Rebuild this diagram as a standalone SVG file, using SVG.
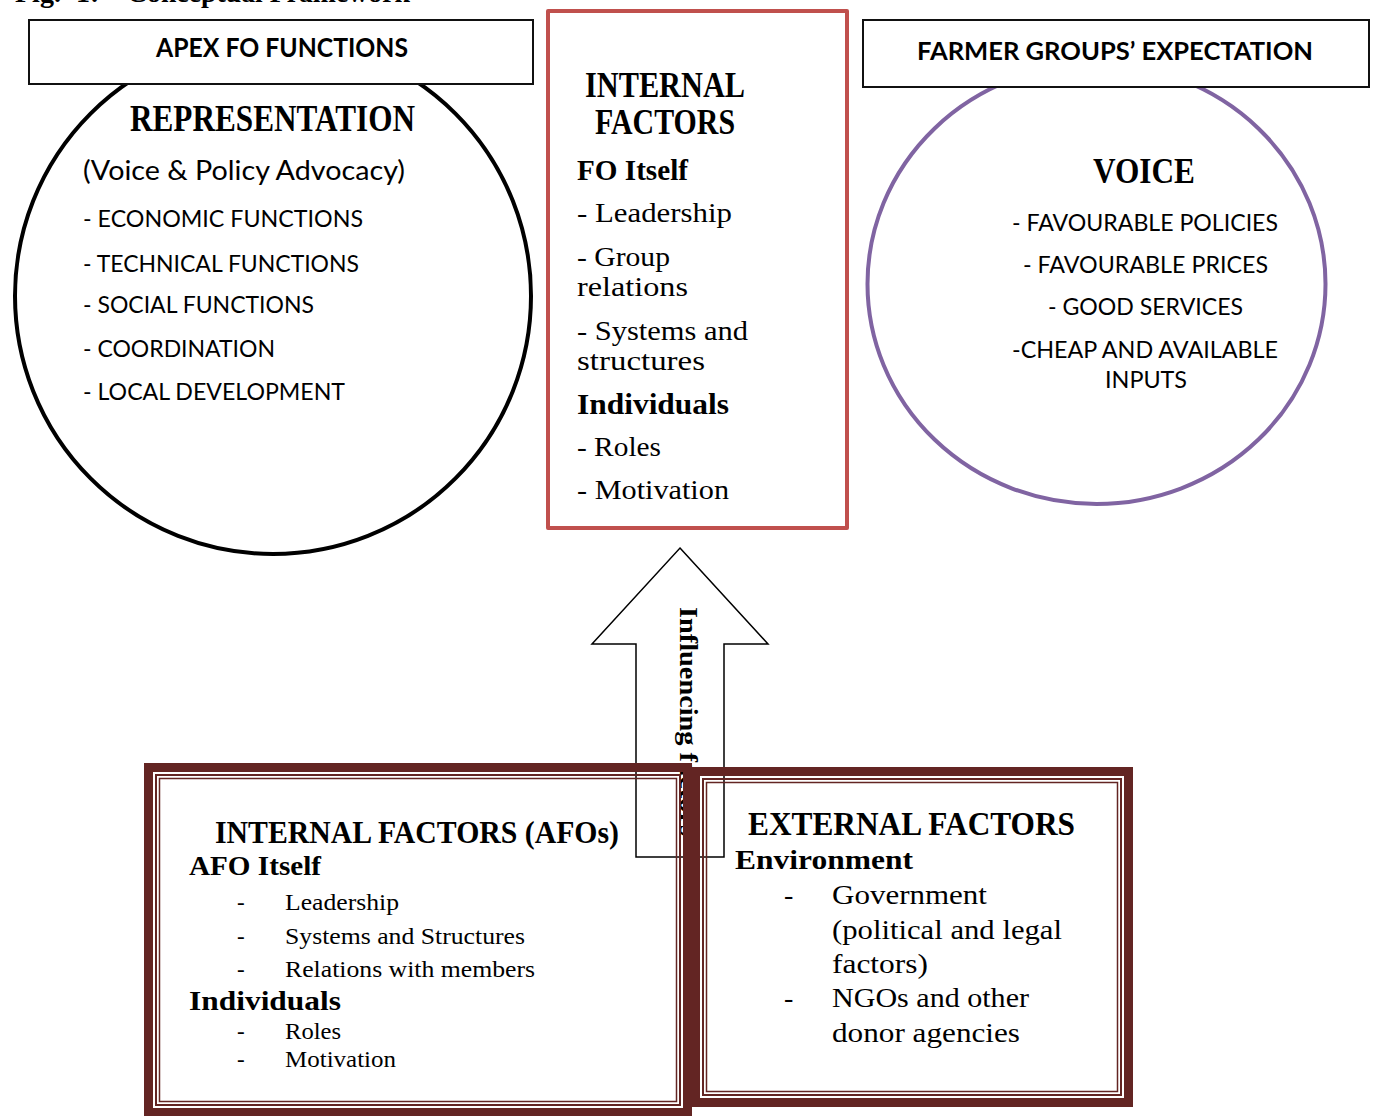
<svg xmlns="http://www.w3.org/2000/svg" width="1376" height="1116" viewBox="0 0 1376 1116">
<style>
.sans{font-family:Lato,"Liberation Sans",sans-serif;fill:#000}
.serif{font-family:"Liberation Serif",serif;fill:#000}
.b{font-weight:bold}
.hdr{fill:#fff;stroke:#111;stroke-width:2}
.thick{fill:none;stroke:#632523;stroke-width:9}
.thin1{fill:none;stroke:#632523;stroke-width:2}
.thin2{fill:none;stroke:#632523;stroke-width:1.5}
</style>
<rect width="1376" height="1116" fill="#fff"/>
<text class="serif b" font-size="28" y="2"><tspan x="15">Fig.</tspan><tspan x="76">1:</tspan><tspan x="127" textLength="283" lengthAdjust="spacingAndGlyphs">Conceptual Framework</tspan></text>

<g id="circle-representation">
<circle cx="273" cy="296" r="258" fill="#fff" stroke="#000" stroke-width="4"/>
<text class="serif b" font-size="37" x="130" y="131" textLength="285" lengthAdjust="spacingAndGlyphs">REPRESENTATION</text>
<text class="sans" font-size="27" x="83" y="180" textLength="322" lengthAdjust="spacingAndGlyphs">(Voice &amp; Policy Advocacy)</text>
<text class="sans" font-size="24" x="83" y="227" textLength="280" lengthAdjust="spacingAndGlyphs">- ECONOMIC FUNCTIONS</text>
<text class="sans" font-size="24" x="83" y="272" textLength="276" lengthAdjust="spacingAndGlyphs">- TECHNICAL FUNCTIONS</text>
<text class="sans" font-size="24" x="83" y="313" textLength="231" lengthAdjust="spacingAndGlyphs">- SOCIAL FUNCTIONS</text>
<text class="sans" font-size="24" x="83" y="357" textLength="192" lengthAdjust="spacingAndGlyphs">- COORDINATION</text>
<text class="sans" font-size="24" x="83" y="400" textLength="262" lengthAdjust="spacingAndGlyphs">- LOCAL DEVELOPMENT</text>
</g>
<g id="header-apex">
<rect class="hdr" x="29" y="20" width="504" height="64"/>
<text class="sans b" font-size="26" x="156" y="57" textLength="252" lengthAdjust="spacingAndGlyphs">APEX FO FUNCTIONS</text>
</g>

<g id="internal-factors">
<rect x="548" y="11" width="299" height="517" fill="#fff" stroke="#C0504D" stroke-width="4" stroke-linejoin="round"/>
<text class="serif b" font-size="35" x="585" y="97" textLength="160" lengthAdjust="spacingAndGlyphs">INTERNAL</text>
<text class="serif b" font-size="35" x="595" y="134" textLength="140" lengthAdjust="spacingAndGlyphs">FACTORS</text>
<text class="serif b" font-size="29" x="577" y="180" textLength="111" lengthAdjust="spacingAndGlyphs">FO Itself</text>
<text class="serif" font-size="28" x="577" y="222" textLength="155" lengthAdjust="spacingAndGlyphs">- Leadership</text>
<text class="serif" font-size="28" x="577" y="266" textLength="93" lengthAdjust="spacingAndGlyphs">- Group</text>
<text class="serif" font-size="28" x="577" y="296" textLength="111" lengthAdjust="spacingAndGlyphs">relations</text>
<text class="serif" font-size="28" x="577" y="340" textLength="171" lengthAdjust="spacingAndGlyphs">- Systems and</text>
<text class="serif" font-size="28" x="577" y="370" textLength="128" lengthAdjust="spacingAndGlyphs">structures</text>
<text class="serif b" font-size="29" x="577" y="414" textLength="152" lengthAdjust="spacingAndGlyphs">Individuals</text>
<text class="serif" font-size="28" x="577" y="456" textLength="84" lengthAdjust="spacingAndGlyphs">- Roles</text>
<text class="serif" font-size="28" x="577" y="499" textLength="152" lengthAdjust="spacingAndGlyphs">- Motivation</text>
</g>

<g id="circle-voice">
<ellipse cx="1096.5" cy="284" rx="229" ry="220" fill="#fff" stroke="#8064A2" stroke-width="4"/>
<text class="serif b" font-size="36" x="1093" y="183" textLength="102" lengthAdjust="spacingAndGlyphs">VOICE</text>
<text class="sans" font-size="24" x="1012" y="231" textLength="266" lengthAdjust="spacingAndGlyphs">- FAVOURABLE POLICIES</text>
<text class="sans" font-size="24" x="1023" y="273" textLength="245" lengthAdjust="spacingAndGlyphs">- FAVOURABLE PRICES</text>
<text class="sans" font-size="24" x="1048" y="315" textLength="195" lengthAdjust="spacingAndGlyphs">- GOOD SERVICES</text>
<text class="sans" font-size="24" x="1012" y="358" textLength="266" lengthAdjust="spacingAndGlyphs">-CHEAP AND AVAILABLE</text>
<text class="sans" font-size="24" x="1105" y="388" textLength="82" lengthAdjust="spacingAndGlyphs">INPUTS</text>
</g>
<g id="header-expectation">
<rect class="hdr" x="863" y="20" width="506" height="67"/>
<text class="sans b" font-size="25" x="917" y="60" textLength="396" lengthAdjust="spacingAndGlyphs">FARMER GROUPS’ EXPECTATION</text>
</g>

<g id="connectors">
<polygon points="680,548 768,644 724,644 724,857 636,857 636,644 592,644" fill="#fff" stroke="#000" stroke-width="1.5"/>
<text class="serif b" font-size="26" transform="translate(680,607) rotate(90)" textLength="229" lengthAdjust="spacingAndGlyphs">Influencing factors</text>
</g>

<g id="box-internal-afos">
<rect class="thick" x="148.5" y="767.5" width="539" height="345"/>
<rect class="thin1" x="156" y="775" width="524" height="330"/>
<rect class="thin2" x="159.5" y="778.5" width="517" height="323"/>
<text class="serif b" font-size="32" x="215" y="843" textLength="404" lengthAdjust="spacingAndGlyphs">INTERNAL FACTORS (AFOs)</text>
<text class="serif b" font-size="28" x="189" y="875" textLength="132" lengthAdjust="spacingAndGlyphs">AFO Itself</text>
<text class="serif" font-size="23" x="237" y="910">-</text>
<text class="serif" font-size="23" x="285" y="910" textLength="114" lengthAdjust="spacingAndGlyphs">Leadership</text>
<text class="serif" font-size="23" x="237" y="944">-</text>
<text class="serif" font-size="23" x="285" y="944" textLength="240" lengthAdjust="spacingAndGlyphs">Systems and Structures</text>
<text class="serif" font-size="23" x="237" y="977">-</text>
<text class="serif" font-size="23" x="285" y="977" textLength="250" lengthAdjust="spacingAndGlyphs">Relations with members</text>
<text class="serif b" font-size="28" x="189" y="1010" textLength="152" lengthAdjust="spacingAndGlyphs">Individuals</text>
<text class="serif" font-size="23" x="237" y="1039">-</text>
<text class="serif" font-size="23" x="285" y="1039" textLength="56" lengthAdjust="spacingAndGlyphs">Roles</text>
<text class="serif" font-size="23" x="237" y="1067">-</text>
<text class="serif" font-size="23" x="285" y="1067" textLength="111" lengthAdjust="spacingAndGlyphs">Motivation</text>
</g>

<g id="box-external">
<rect class="thick" x="695.5" y="771.5" width="433" height="331"/>
<rect class="thin1" x="703" y="779" width="418" height="316"/>
<rect class="thin2" x="706.5" y="782.5" width="411" height="309"/>
<text class="serif b" font-size="33" x="748" y="835" textLength="327" lengthAdjust="spacingAndGlyphs">EXTERNAL FACTORS</text>
<text class="serif b" font-size="28" x="735" y="869" textLength="178" lengthAdjust="spacingAndGlyphs">Environment</text>
<text class="serif" font-size="28" x="784" y="904">-</text>
<text class="serif" font-size="28" x="832" y="904" textLength="155" lengthAdjust="spacingAndGlyphs">Government</text>
<text class="serif" font-size="28" x="832" y="939" textLength="230" lengthAdjust="spacingAndGlyphs">(political and legal</text>
<text class="serif" font-size="28" x="832" y="973" textLength="96" lengthAdjust="spacingAndGlyphs">factors)</text>
<text class="serif" font-size="28" x="784" y="1007">-</text>
<text class="serif" font-size="28" x="832" y="1007" textLength="197" lengthAdjust="spacingAndGlyphs">NGOs and other</text>
<text class="serif" font-size="28" x="832" y="1042" textLength="188" lengthAdjust="spacingAndGlyphs">donor agencies</text>
</g>
</svg>
